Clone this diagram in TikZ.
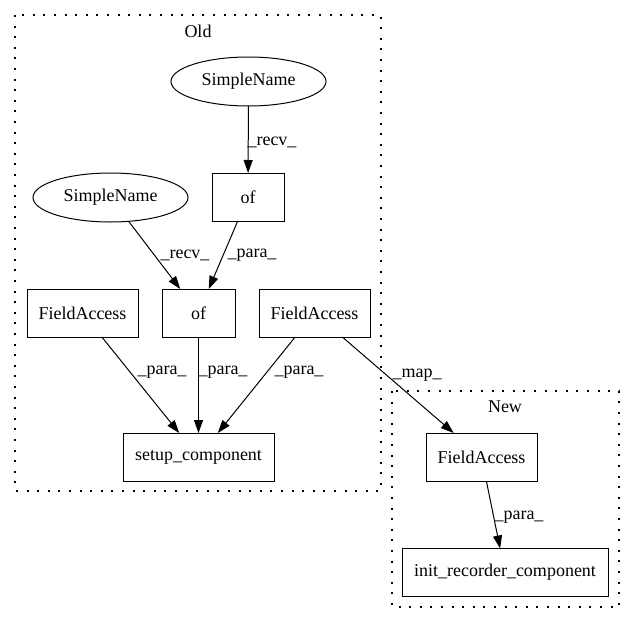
\documentclass[tikz,border=0pt]{standalone}
\usepackage{fontspec}
\setmainfont{Liberation Serif}
\usepackage{tikz}
\usetikzlibrary{arrows.meta,shapes.geometric}

\begin{document}
\begin{tikzpicture}[x=1pt, y=-1pt,
  font=\fontsize{18}{22}\selectfont,
  box/.style={rectangle, draw, line width=1pt, minimum height=48pt, inner sep=0pt, outer sep=0pt},
  oval/.style={ellipse, draw, line width=1pt, minimum width=155pt, minimum height=49pt, inner sep=0pt, outer sep=0pt},
  edge/.style={-{Triangle[length=13pt,width=9pt]}, line width=1pt},
  cluster/.style={line width=1.3pt, dash pattern=on 2pt off 8.6pt},
  lbl/.style={inner sep=0pt}]
\useasboundingbox (0,0) rectangle (635,624);

% clusters
\draw[cluster] (15,15) rectangle (381,491);
\node (old) at (198,31) {Old};
\draw[cluster] (392,391) rectangle (619,607);
\node (new) at (505,407) {New};

% nodes
\node[oval] (sn1) at (248.5,81.5) {SimpleName};
\node[box, minimum width=72pt] (of1) at (248,197) {of};
\node[oval] (sn2) at (110.5,197.5) {SimpleName};
\node[box, minimum width=73pt] (of2) at (198.5,313) {of};
\node[box, minimum width=111pt] (fa1) at (82.5,313) {FieldAccess};
\node[box, minimum width=111pt] (fa2) at (314.5,313) {FieldAccess};
\node[box, minimum width=151pt] (setup) at (198.5,457) {setup\_component};
\node[box, minimum width=111pt] (fa3) at (481.5,457) {FieldAccess};
\node[box, minimum width=206pt] (init) at (505,572.5) {init\_recorder\_component};

% edges
\draw[edge] (sn1) -- (of1);
\draw[edge] (sn2) -- (of2);
\draw[edge] (of1) -- (of2);
\draw[edge] (fa1) -- (setup);
\draw[edge] (of2) -- (setup);
\draw[edge] (fa2) -- (setup);
\draw[edge] (fa2) -- (fa3);
\draw[edge] (fa3) -- (init);

% edge labels
\node[lbl] (l1) at (272,142) {\_recv\_};
\node[lbl] (l2) at (185,255) {\_recv\_};
\node[lbl] (l3) at (252,255) {\_para\_};
\node[lbl] (l4) at (162,372) {\_para\_};
\node[lbl] (l5) at (223,372) {\_para\_};
\node[lbl] (l6) at (299,372) {\_para\_};
\node[lbl] (l7) at (417,375) {\_map\_};
\node[lbl] (l8) at (519,517) {\_para\_};
\end{tikzpicture}
\end{document}
